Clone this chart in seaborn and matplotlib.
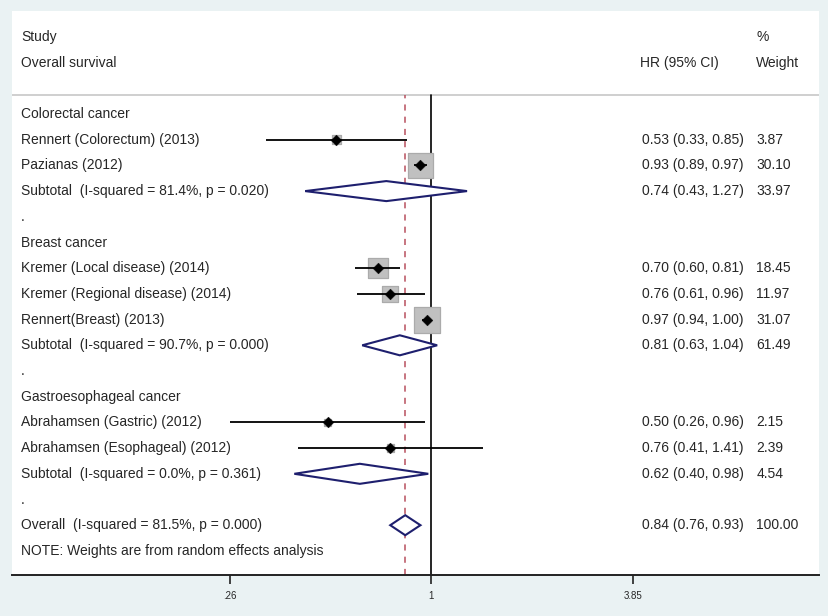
import numpy as np
import pandas as pd
import matplotlib
matplotlib.use("Agg")
import matplotlib.pyplot as plt
from matplotlib.transforms import blended_transform_factory
import seaborn as sns

# ---------------- data ----------------
row_labels = [
    "Colorectal cancer",
    "Rennert (Colorectum) (2013)",
    "Pazianas (2012)",
    "Subtotal  (I-squared = 81.4%, p = 0.020)",
    ".",
    "Breast cancer",
    "Kremer (Local disease) (2014)",
    "Kremer (Regional disease) (2014)",
    "Rennert(Breast) (2013)",
    "Subtotal  (I-squared = 90.7%, p = 0.000)",
    ".",
    "Gastroesophageal cancer",
    "Abrahamsen (Gastric) (2012)",
    "Abrahamsen (Esophageal) (2012)",
    "Subtotal  (I-squared = 0.0%, p = 0.361)",
    ".",
    "Overall  (I-squared = 81.5%, p = 0.000)",
    "NOTE: Weights are from random effects analysis",
]
# row kind: h=header, s=study, d=diamond (pooled), t=text only
row_kind = ["h", "s", "s", "d", "t", "h", "s", "s", "s", "d", "t",
            "h", "s", "s", "d", "t", "d", "t"]
hr = [np.nan, 0.53, 0.93, 0.74, np.nan, np.nan, 0.70, 0.76, 0.97, 0.81, np.nan,
      np.nan, 0.50, 0.76, 0.62, np.nan, 0.84, np.nan]
lo = [np.nan, 0.33, 0.89, 0.43, np.nan, np.nan, 0.60, 0.61, 0.94, 0.63, np.nan,
      np.nan, 0.26, 0.41, 0.40, np.nan, 0.76, np.nan]
hi = [np.nan, 0.85, 0.97, 1.27, np.nan, np.nan, 0.81, 0.96, 1.00, 1.04, np.nan,
      np.nan, 0.96, 1.41, 0.98, np.nan, 0.93, np.nan]
weight = [np.nan, 3.87, 30.10, 33.97, np.nan, np.nan, 18.45, 11.97, 31.07, 61.49, np.nan,
          np.nan, 2.15, 2.39, 4.54, np.nan, 100.00, np.nan]
overall_hr = 0.84
tick_values = [0.26, 1, 3.85]
tick_labels = [".26", "1", "3.85"]

df = pd.DataFrame({"label": row_labels, "kind": row_kind, "hr": hr,
                   "lo": lo, "hi": hi, "w": weight})
df["row"] = np.arange(len(df))

# ---------------- style ----------------
sns.set_theme(style="white")
plt.rcParams["font.family"] = ["Liberation Sans", "DejaVu Sans"]

BG = "#EAF2F3"
NAVY = "#1E1F6E"
DASH = "#B8505E"
FS = 10

W, H = 829, 616
fig = plt.figure(figsize=(W / 100, H / 100), dpi=100, facecolor=BG)
ax_l, ax_r, ax_t, ax_b = 12, 819, 11, 575
ax = fig.add_axes([ax_l / W, (H - ax_b) / H, (ax_r - ax_l) / W, (ax_b - ax_t) / H])
ax.set_facecolor("white")

x1 = 431.3
pxl = 149.5
ax.set_xscale("log")
ax.set_xlim(np.exp((ax_l - x1) / pxl), np.exp((ax_r - x1) / pxl))
row0, rowh = 114.0, 25.7
ax.set_ylim((ax_b - row0) / rowh, (ax_t - row0) / rowh)

# reference lines
sep = -0.75
ymax_frac = (ax.get_ylim()[0] - sep) / (ax.get_ylim()[0] - ax.get_ylim()[1])
ax.axhline(sep, color="#CFCFCF", lw=1.4, zorder=1)
ax.axvline(1, ymin=0, ymax=ymax_frac, color="black", lw=1.2, zorder=2)
ax.axvline(overall_hr, ymin=0, ymax=ymax_frac, color=DASH, lw=1.1,
           dashes=(4, 4), zorder=2)

studies = df[df["kind"] == "s"].copy()
# squares sized by weight
side_px = 4.7 * np.sqrt(studies["w"].values)
ax.scatter(studies["hr"], studies["row"], s=(side_px * 0.72) ** 2, marker="s",
           color="#C0C0C0", edgecolor="#ABABAB", linewidth=0.9, zorder=3)
# CI lines
ax.hlines(studies["row"], studies["lo"], studies["hi"], color="black", lw=1.3, zorder=4)
# point estimates
sns.scatterplot(data=studies, x="hr", y="row", marker="D", s=30, color="black",
                edgecolor="black", linewidth=0.3, ax=ax, zorder=5, legend=False)

# pooled diamonds
dh = 0.39
for _, r in df[df["kind"] == "d"].iterrows():
    xs = [r["lo"], r["hr"], r["hi"], r["hr"], r["lo"]]
    ys = [r["row"], r["row"] - dh, r["row"], r["row"] + dh, r["row"]]
    ax.fill(xs, ys, facecolor="white", edgecolor=NAVY, lw=1.5, zorder=4)

# text columns
btr = blended_transform_factory(ax.transAxes, ax.transData)


def fx(px):
    return (px - ax_l) / (ax_r - ax_l)


ax.text(fx(21), -3, "Study", transform=btr, fontsize=FS, va="center", ha="left")
ax.text(fx(21), -2, "Overall survival", transform=btr, fontsize=FS, va="center", ha="left")
ax.text(fx(640), -2, "HR (95% CI)", transform=btr, fontsize=FS, va="center", ha="left")
ax.text(fx(757), -3, "%", transform=btr, fontsize=FS, va="center", ha="left")
ax.text(fx(756), -2, "Weight", transform=btr, fontsize=FS, va="center", ha="left")

for _, r in df.iterrows():
    ax.text(fx(21), r["row"], r["label"], transform=btr, fontsize=FS,
            va="center", ha="left")
    if not np.isnan(r["hr"]):
        ax.text(fx(642.5), r["row"], f"{r['hr']:.2f} ({r['lo']:.2f}, {r['hi']:.2f})",
                transform=btr, fontsize=FS, va="center", ha="left")
        ax.text(fx(756.5), r["row"], f"{r['w']:.2f}", transform=btr, fontsize=FS,
                va="center", ha="left")

# axis
for s in ["top", "left", "right"]:
    ax.spines[s].set_visible(False)
ax.spines["bottom"].set_color("#222222")
ax.spines["bottom"].set_linewidth(1.4)
ax.set_xticks(tick_values)
ax.set_xticklabels(tick_labels)
ax.xaxis.set_minor_locator(matplotlib.ticker.NullLocator())
ax.tick_params(axis="x", which="major", direction="out", length=6.5, width=1.2,
               color="#222222", labelsize=7, pad=5, bottom=True)
ax.set_yticks([])
ax.set_xlabel("")
ax.set_ylabel("")
ax.grid(False)

fig.savefig("out.png", dpi=100, facecolor=BG)
